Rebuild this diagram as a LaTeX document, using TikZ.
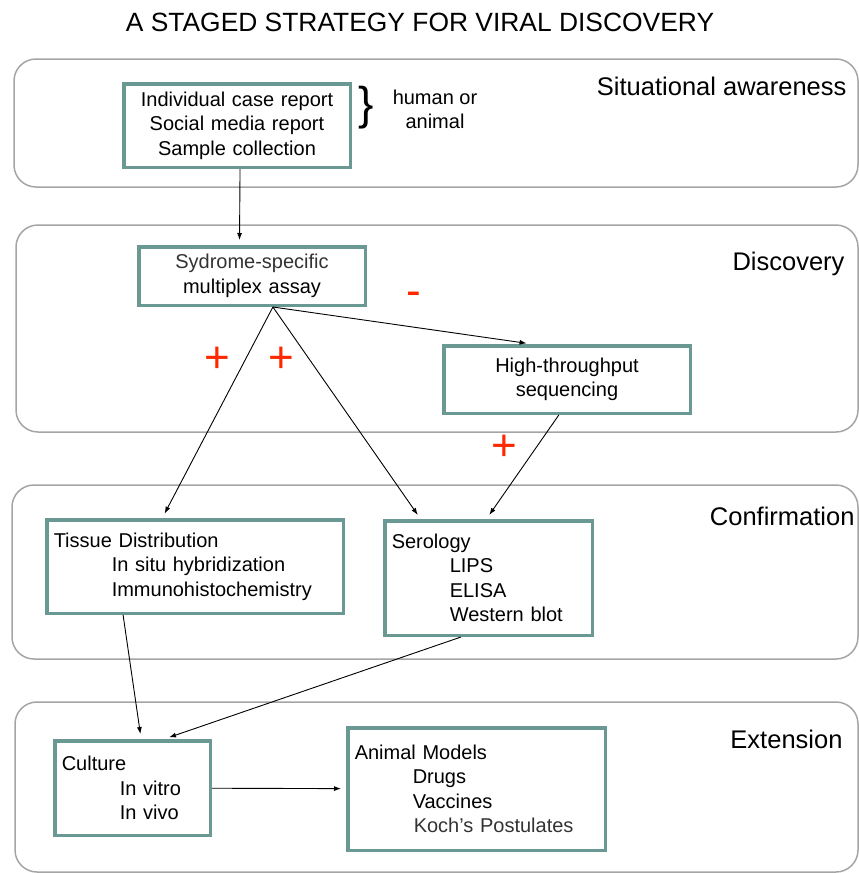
\documentclass[tikz,border=0pt]{standalone}
\usepackage{fontspec}
\setmainfont{Liberation Sans}
\usetikzlibrary{arrows.meta}
\definecolor{boxteal}{RGB}{106,152,147}
\definecolor{panelgray}{RGB}{165,165,165}
\definecolor{signred}{RGB}{255,40,0}
\tikzset{
  panel/.style={draw=panelgray, line width=1.5pt, rounded corners=22pt},
  box/.style={draw=boxteal, line width=3.5pt, fill=white, inner xsep=7pt, inner ysep=0pt,
    font=\fontsize{20}{24.5}\selectfont},
  flow/.style={-{Latex[length=7pt,width=5pt]}, line width=0.9pt, shorten >=5pt},
  stage/.style={anchor=base east, font=\fontsize{25.5}{30}\selectfont},
  sign/.style={text=signred, inner sep=0pt, font=\fontsize{44}{44}\selectfont}
}
\begin{document}
\begin{tikzpicture}[x=1pt,y=-1pt]
  \useasboundingbox (0,0) rectangle (859,873);

  \draw[panel] (14,59) rectangle (858,187);
  \draw[panel] (16,225) rectangle (858,432);
  \draw[panel] (12,485) rectangle (858,659);
  \draw[panel] (15,702) rectangle (858,872);

  \node[anchor=base, font=\fontsize{26.4}{30}\selectfont] (title) at (420,31) {A STAGED STRATEGY FOR VIRAL DISCOVERY};

  \node[stage] (aware) at (850,95) {Situational awareness};
  \node[stage] (disc) at (848,270) {Discovery};
  \node[stage] (conf) at (858,525) {Confirmation};
  \node[stage] (ext) at (846,748) {Extension};

  \node[box, minimum width=226.5pt, minimum height=83.5pt, text width=212.5pt, align=center] (b1) at (237,125.5)
    {Individual case report\\Social media report\\Sample collection};
  \node[font=\fontsize{46}{46}\selectfont, inner sep=0pt] (brace) at (366,108) {\}};
  \node[align=center, inner sep=0pt, font=\fontsize{20}{24}\selectfont] (host) at (435,109) {human or\\animal};

  \node[box, minimum width=226.5pt, minimum height=58.5pt, text width=212.5pt, align=center] (b2) at (252,276)
    {{\color{black!80}Sydrome-specific}\\multiplex assay};
  \node[box, minimum width=246.5pt, minimum height=67.5pt, text width=232.5pt, align=center] (ht) at (567,379.5)
    {High-throughput\\sequencing};

  \node[box, minimum width=296.5pt, minimum height=93.5pt, text width=282.5pt, align=left] (tissue) at (195,566.5)
    {Tissue Distribution\\\hspace*{58pt}In situ hybridization\\\hspace*{58pt}Immunohistochemistry};
  \node[box, minimum width=207.5pt, minimum height=114.5pt, text width=193.5pt, align=left] (sero) at (488.5,578)
    {Serology\\\hspace*{58pt}LIPS\\\hspace*{58pt}ELISA\\\hspace*{58pt}Western blot};

  \node[box, minimum width=155.5pt, minimum height=94.5pt, text width=141.5pt, align=left] (culture) at (132.5,788)
    {Culture\\\hspace*{58pt}In vitro\\\hspace*{58pt}In vivo};
  \node[box, minimum width=257.5pt, minimum height=122.5pt, text width=243.5pt, align=left] (animal) at (476.5,789)
    {Animal Models\\\hspace*{58pt}Drugs\\\hspace*{58pt}Vaccines\\\hspace*{59pt}{\color{black!80}Koch’s Postulates}};

  \node[sign] (minus) at (414,299) {-};
  \node[sign] (plusa) at (217,360) {+};
  \node[sign] (plusb) at (281,360) {+};
  \node[sign] (plusc) at (504,448) {+};

  \coordinate (fork) at (b2.-56);

  \foreach \from/\to in {b1.-86/b2.112, fork/ht.135, fork/tissue.124, fork/sero.139,
                    ht.-103/sero.92, tissue.-146/culture.80, sero.-115/culture.57,
                    culture/animal}
    \draw[flow] (\from) -- (\to);
\end{tikzpicture}
\end{document}
